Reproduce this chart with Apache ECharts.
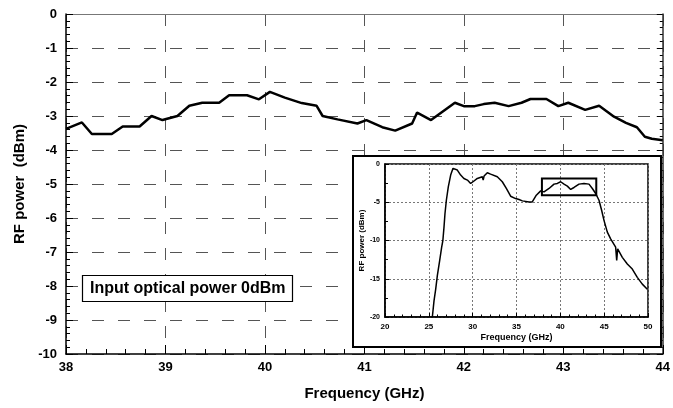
<!DOCTYPE html>
<html>
<head>
<meta charset="utf-8">
<script src="https://cdn.jsdelivr.net/npm/echarts@6/dist/echarts.min.js"></script>
<style>
html,body{margin:0;padding:0;background:#fff;}
#chart{width:673px;height:408px;}
</style>
</head>
<body>
<div id="chart"></div>
<script>
// ---- main plot data (Frequency GHz, RF power dBm) ----
const freqMain = [38.0, 38.16, 38.26, 38.46, 38.57, 38.74, 38.86, 38.97, 39.12, 39.24, 39.37, 39.54, 39.64, 39.82, 39.94, 40.05, 40.20, 40.37, 40.52, 40.58, 40.73, 40.93, 41.02, 41.18, 41.31, 41.48, 41.53, 41.67, 41.91, 42.00, 42.11, 42.20, 42.31, 42.45, 42.58, 42.67, 42.83, 42.95, 43.05, 43.22, 43.36, 43.51, 43.63, 43.74, 43.82, 43.89, 44.0];
const powerMain = [-3.38, -3.19, -3.53, -3.53, -3.31, -3.31, -3.0, -3.12, -3.0, -2.70, -2.61, -2.61, -2.39, -2.39, -2.51, -2.29, -2.46, -2.62, -2.70, -3.0, -3.10, -3.22, -3.12, -3.33, -3.43, -3.22, -2.90, -3.12, -2.61, -2.71, -2.71, -2.65, -2.61, -2.71, -2.61, -2.50, -2.50, -2.71, -2.61, -2.82, -2.70, -3.02, -3.20, -3.33, -3.61, -3.67, -3.71];

// ---- inset data (wide-band response) ----
const freqInset = [25.4, 25.59, 25.78, 25.97, 26.24, 26.46, 26.6, 26.73, 26.84, 27.0, 27.22, 27.49, 27.76, 27.98, 28.25, 28.63, 29.0, 29.4, 29.77, 30.04, 30.53, 31.1, 31.2, 31.3, 31.67, 32.05, 32.81, 33.38, 33.84, 34.33, 34.9, 35.29, 35.67, 36.43, 36.8, 37.26, 37.76, 38.14, 38.71, 39.28, 39.66, 40.04, 40.42, 40.8, 41.18, 41.56, 42.13, 42.7, 43.27, 43.65, 44.03, 44.41, 44.71, 44.98, 45.36, 45.74, 46.31, 46.43, 46.54, 47.07, 47.64, 48.21, 48.78, 49.35, 49.92];
const powerInset = [-20, -17.9, -16.4, -14.6, -12.6, -10.9, -10.0, -8.25, -6.5, -4.74, -2.98, -1.45, -0.57, -0.44, -0.79, -1.45, -1.89, -2.1, -2.54, -2.32, -1.89, -1.67, -2.1, -1.58, -1.14, -1.32, -1.67, -2.32, -3.2, -4.21, -4.52, -4.65, -4.82, -4.96, -4.96, -4.08, -3.51, -3.64, -3.2, -2.63, -2.54, -2.32, -2.63, -2.89, -3.33, -3.07, -2.63, -2.54, -2.63, -3.2, -3.86, -4.74, -6.05, -7.37, -8.9, -9.78, -10.88, -12.6, -11.1, -12.2, -13.07, -13.73, -14.82, -15.7, -16.36];

// zoom box in inset: [freqFrom, freqTo, powerTop, powerBottom]
const zoomBox = [37.9, 44.1, -1.9, -4.1];

// tick settings
const mainXTicks = {min: 38, max: 44, step: 1};
const mainYTicks = {min: -10, max: 0, step: 1};
const insetXTicks = {min: 20, max: 50, step: 5};
const insetYTicks = {min: -20, max: 0, step: 5};

const labelText = 'Input optical power 0dBm';

const FONT = '"Liberation Sans", Arial, sans-serif';
const zip = (a, b) => a.map((v, i) => [v, b[i]]);

const chart = echarts.init(document.getElementById('chart'), null, {renderer: 'canvas'});

const dashed = {show: true, lineStyle: {color: '#555', width: 1, type: [12, 14]}};
const dotted = {show: true, lineStyle: {color: '#777', width: 1, type: [2, 2]}};

chart.setOption({
  animation: false,
  backgroundColor: '#fff',
  grid: [
    {left: 66, top: 14, width: 601, height: 340, show: false},
    {left: 385, top: 164, width: 263, height: 153, show: true, borderColor: '#000', borderWidth: 1.5, backgroundColor: 'transparent', z: 6}
  ],
  xAxis: [
    {
      type: 'value', gridIndex: 0, position: 'bottom',
      min: mainXTicks.min, max: mainXTicks.max, interval: mainXTicks.step,
      axisLine: {show: true, onZero: false, lineStyle: {color: '#000', width: 1.5}},
      axisTick: {show: true, inside: true, length: 9, lineStyle: {color: '#000', width: 1}},
      minorTick: {show: true, splitNumber: 5, length: 5, lineStyle: {color: '#000', width: 1}},
      splitLine: dashed,
      axisLabel: {color: '#000', fontFamily: FONT, fontWeight: 'bold', fontSize: 13, margin: 7},
      name: 'Frequency (GHz)', nameLocation: 'middle', nameGap: 32,
      nameTextStyle: {color: '#000', fontFamily: FONT, fontWeight: 'bold', fontSize: 15}
    },
    {
      type: 'value', gridIndex: 0, position: 'top',
      min: mainXTicks.min, max: mainXTicks.max, interval: mainXTicks.step,
      axisLine: {show: true, onZero: false, lineStyle: {color: '#777', width: 1}},
      axisTick: {show: false}, axisLabel: {show: false}, splitLine: {show: false}
    },
    {
      type: 'value', gridIndex: 1, position: 'bottom', z: 6,
      min: insetXTicks.min, max: insetXTicks.max, interval: insetXTicks.step,
      axisLine: {show: true, onZero: false, lineStyle: {color: '#000', width: 1.5}},
      axisTick: {show: true, inside: true, length: 4, lineStyle: {color: '#000'}},
      minorTick: {show: true, splitNumber: 5, length: 2.5, lineStyle: {color: '#000'}},
      splitLine: dotted,
      axisLabel: {color: '#000', fontFamily: FONT, fontWeight: 'bold', fontSize: 8, margin: 6},
      name: 'Frequency (GHz)', nameLocation: 'middle', nameGap: 16,
      nameTextStyle: {color: '#000', fontFamily: FONT, fontWeight: 'bold', fontSize: 9}
    }
  ],
  yAxis: [
    {
      type: 'value', gridIndex: 0, position: 'left',
      min: mainYTicks.min, max: mainYTicks.max, interval: mainYTicks.step,
      axisLine: {show: true, onZero: false, lineStyle: {color: '#000', width: 1.5}},
      axisTick: {show: true, inside: true, length: 7, lineStyle: {color: '#000'}},
      minorTick: {show: true, splitNumber: 5, length: 4, lineStyle: {color: '#000'}},
      splitLine: dashed,
      axisLabel: {color: '#000', fontFamily: FONT, fontWeight: 'bold', fontSize: 13, margin: 9},
      name: 'RF power  (dBm)', nameLocation: 'middle', nameGap: 30, nameRotate: 90,
      nameTextStyle: {color: '#000', fontFamily: FONT, fontWeight: 'bold', fontSize: 15}
    },
    {
      type: 'value', gridIndex: 0, position: 'right',
      min: mainYTicks.min, max: mainYTicks.max, interval: mainYTicks.step,
      axisLine: {show: true, onZero: false, lineStyle: {color: '#333', width: 1.5}},
      axisTick: {show: true, inside: true, length: 6, lineStyle: {color: '#000'}},
      minorTick: {show: true, splitNumber: 5, length: 3, lineStyle: {color: '#000'}},
      axisLabel: {show: false}, splitLine: {show: false}
    },
    {
      type: 'value', gridIndex: 1, position: 'left', z: 6,
      min: insetYTicks.min, max: insetYTicks.max, interval: insetYTicks.step,
      axisLine: {show: true, onZero: false, lineStyle: {color: '#000', width: 1.5}},
      axisTick: {show: true, inside: true, length: 4, lineStyle: {color: '#000'}},
      minorTick: {show: true, splitNumber: 2, length: 3, lineStyle: {color: '#000'}},
      splitLine: dotted,
      axisLabel: {color: '#000', fontFamily: FONT, fontWeight: 'bold', fontSize: 7, margin: 5},
      name: 'RF power (dBm)', nameLocation: 'middle', nameGap: 17, nameRotate: 90,
      nameTextStyle: {color: '#000', fontFamily: FONT, fontWeight: 'bold', fontSize: 8}
    }
  ],
  graphic: [
    {
      type: 'rect', z: 5,
      shape: {x: 353, y: 156, width: 308, height: 191},
      style: {fill: '#fff', stroke: '#000', lineWidth: 2}
    },
    {
      type: 'rect', z: 5,
      shape: {x: 82.5, y: 275.5, width: 210, height: 26},
      style: {fill: '#fff', stroke: '#000', lineWidth: 1.2}
    },
    {
      type: 'text', z: 6, x: 90, y: 288.5,
      style: {text: labelText, fill: '#000', font: 'bold 16px "Liberation Sans", Arial, sans-serif', verticalAlign: 'middle', textVerticalAlign: 'middle'}
    }
  ],
  series: [
    {
      type: 'line', xAxisIndex: 0, yAxisIndex: 0, z: 3,
      data: zip(freqMain, powerMain),
      showSymbol: false, symbol: 'none',
      lineStyle: {color: '#000', width: 2.5}
    },
    {
      type: 'line', xAxisIndex: 2, yAxisIndex: 2, z: 7,
      data: zip(freqInset, powerInset),
      showSymbol: false, symbol: 'none',
      lineStyle: {color: '#000', width: 1.5},
      markArea: {
        silent: true, z: 8,
        itemStyle: {color: 'rgba(0,0,0,0)', borderColor: '#000', borderWidth: 2},
        data: [[{xAxis: zoomBox[0], yAxis: zoomBox[2]}, {xAxis: zoomBox[1], yAxis: zoomBox[3]}]]
      }
    }
  ]
});
</script>
</body>
</html>
